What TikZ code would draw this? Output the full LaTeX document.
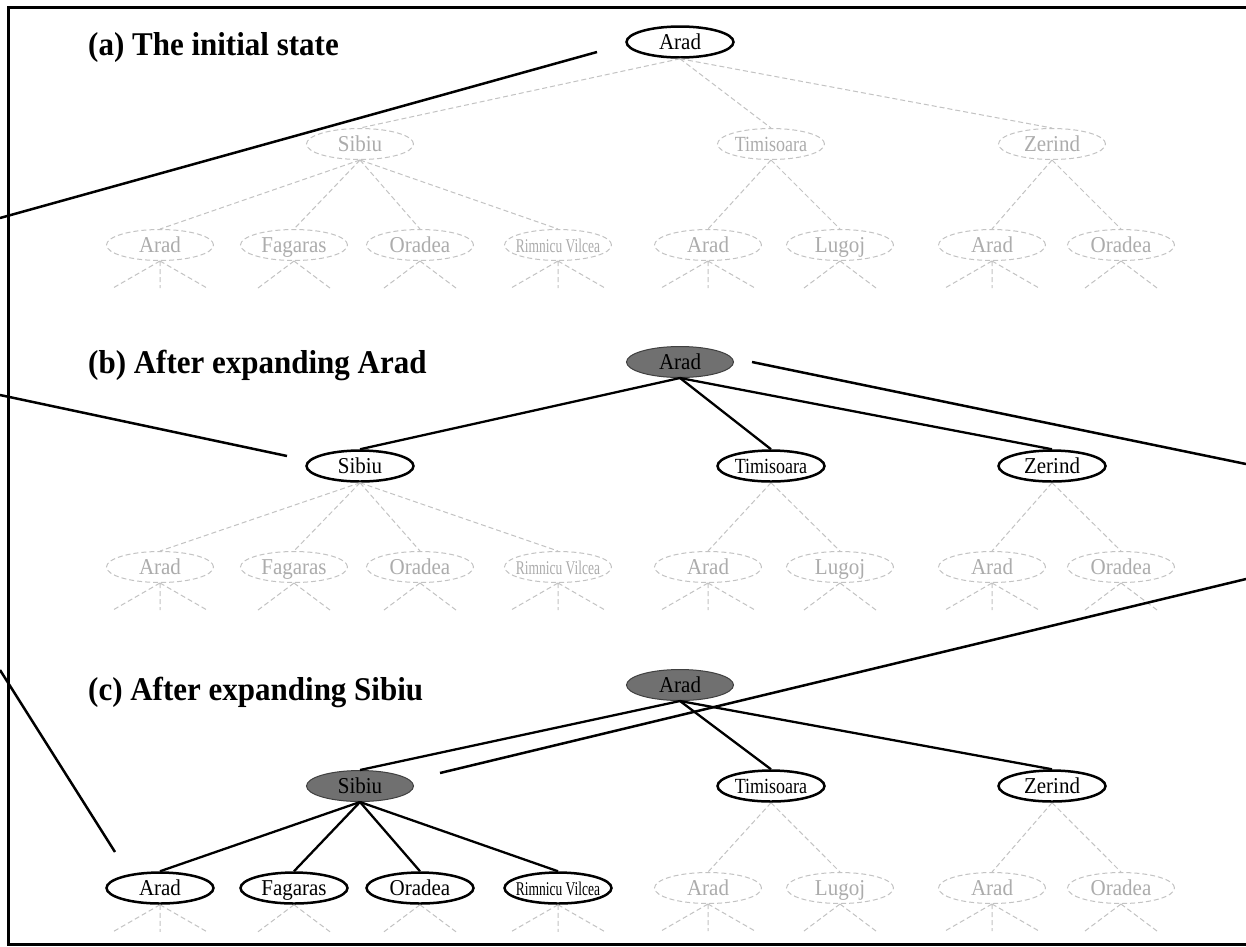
\documentclass[tikz,border=0pt]{standalone}
\usepackage{fontspec}
\setmainfont{Liberation Serif}
\usetikzlibrary{shapes.geometric}
\definecolor{expgray}{RGB}{112,112,112}
\definecolor{faint}{RGB}{195,195,195}
\definecolor{fainttext}{RGB}{172,172,172}
\newcommand{\nlab}[1]{\makebox[0pt]{\scalebox{1}[1.08]{#1}}}
\newcommand{\tim}{\scalebox{0.9}[1]{\fontsize{20}{24}\selectfont Timisoara}}
\newcommand{\rim}{\scalebox{0.75}[1]{\fontsize{18}{22}\selectfont Rimnicu Vilcea}}
\tikzset{
  nd/.style={ellipse, minimum width=107pt, minimum height=31pt, inner sep=0pt,
    text height=17pt, text depth=3pt, font=\fontsize{21}{24}\selectfont},
  openn/.style={nd, draw=black, line width=2.5pt, fill=white},
  donen/.style={nd, draw=black!75, line width=1pt, fill=expgray},
  ghost/.style={nd, draw=faint, line width=1pt, dash pattern=on 5pt off 3pt, text=fainttext},
  tedge/.style={draw=black, line width=2.3pt},
  gedge/.style={draw=faint, line width=1pt, dash pattern=on 5pt off 3pt},
  ann/.style={draw=black, line width=2.5pt},
  ttl/.style={anchor=base west, inner sep=0pt, font=\fontsize{31}{36}\selectfont\bfseries},
}
\newcommand{\threestubs}[1]{\draw[gedge] (#1.south) -- ++(-47,27) (#1.south) -- ++(0,27) (#1.south) -- ++(47,27);}
\newcommand{\twostubs}[1]{\draw[gedge] (#1.south) -- ++(-36,27) (#1.south) -- ++(36,27);}
\begin{document}
\begin{tikzpicture}[x=1pt,y=-1pt]
\fill[white] (0,0) rectangle (1246,946);
\useasboundingbox (0,0) rectangle (1246,946);

% frame
\draw[line width=3pt] (1260,7) -- (8,7) -- (8,944) -- (1260,944);

% ---------- (a) ----------
\node[ttl] (ta) at (88,55) {\scalebox{1}[1.07]{(a) The initial state}};
\node[openn] (aR) at (680,42) {\nlab{Arad}};
\node[ghost] (aS) at (360,144) {\nlab{Sibiu}};
\node[ghost] (aT) at (771,144) {\nlab{\tim}};
\node[ghost] (aZ) at (1052,144) {\nlab{Zerind}};
\node[ghost] (aL1) at (160,245) {\nlab{Arad}};
\node[ghost] (aL2) at (294,245) {\nlab{Fagaras}};
\node[ghost] (aL3) at (420,245) {\nlab{Oradea}};
\node[ghost] (aL4) at (558,245) {\nlab{\rim}};
\node[ghost] (aL5) at (708,245) {\nlab{Arad}};
\node[ghost] (aL6) at (840,245) {\nlab{Lugoj}};
\node[ghost] (aL7) at (992,245) {\nlab{Arad}};
\node[ghost] (aL8) at (1121,245) {\nlab{Oradea}};
\draw[gedge] (aR.south) -- (aS.north);
\draw[gedge] (aR.south) -- (aT.north);
\draw[gedge] (aR.south) -- (aZ.north);
\draw[gedge] (aS.south) -- (aL1.north);
\draw[gedge] (aS.south) -- (aL2.north);
\draw[gedge] (aS.south) -- (aL3.north);
\draw[gedge] (aS.south) -- (aL4.north);
\draw[gedge] (aT.south) -- (aL5.north);
\draw[gedge] (aT.south) -- (aL6.north);
\draw[gedge] (aZ.south) -- (aL7.north);
\draw[gedge] (aZ.south) -- (aL8.north);
\threestubs{aL1}\twostubs{aL2}\twostubs{aL3}\threestubs{aL4}
\threestubs{aL5}\twostubs{aL6}\threestubs{aL7}\twostubs{aL8}

% ---------- (b) ----------
\node[ttl] (tb) at (88,373) {\scalebox{1}[1.07]{(b) After expanding Arad}};
\node[donen] (bR) at (680,362) {\nlab{Arad}};
\node[openn] (bS) at (360,466) {\nlab{Sibiu}};
\node[openn] (bT) at (771,466) {\nlab{\tim}};
\node[openn] (bZ) at (1052,466) {\nlab{Zerind}};
\node[ghost] (bL1) at (160,567) {\nlab{Arad}};
\node[ghost] (bL2) at (294,567) {\nlab{Fagaras}};
\node[ghost] (bL3) at (420,567) {\nlab{Oradea}};
\node[ghost] (bL4) at (558,567) {\nlab{\rim}};
\node[ghost] (bL5) at (708,567) {\nlab{Arad}};
\node[ghost] (bL6) at (840,567) {\nlab{Lugoj}};
\node[ghost] (bL7) at (992,567) {\nlab{Arad}};
\node[ghost] (bL8) at (1121,567) {\nlab{Oradea}};
\draw[tedge] (bR.south) -- (bS.north);
\draw[tedge] (bR.south) -- (bT.north);
\draw[tedge] (bR.south) -- (bZ.north);
\draw[gedge] (bS.south) -- (bL1.north);
\draw[gedge] (bS.south) -- (bL2.north);
\draw[gedge] (bS.south) -- (bL3.north);
\draw[gedge] (bS.south) -- (bL4.north);
\draw[gedge] (bT.south) -- (bL5.north);
\draw[gedge] (bT.south) -- (bL6.north);
\draw[gedge] (bZ.south) -- (bL7.north);
\draw[gedge] (bZ.south) -- (bL8.north);
\threestubs{bL1}\twostubs{bL2}\twostubs{bL3}\threestubs{bL4}
\threestubs{bL5}\twostubs{bL6}\threestubs{bL7}\twostubs{bL8}

% ---------- (c) ----------
\node[ttl] (tc) at (88,700) {\scalebox{1}[1.07]{(c) After expanding Sibiu}};
\node[donen] (cR) at (680,685) {\nlab{Arad}};
\node[donen] (cS) at (360,786) {\nlab{Sibiu}};
\node[openn] (cT) at (771,786) {\nlab{\tim}};
\node[openn] (cZ) at (1052,786) {\nlab{Zerind}};
\node[openn] (cL1) at (160,888) {\nlab{Arad}};
\node[openn] (cL2) at (294,888) {\nlab{Fagaras}};
\node[openn] (cL3) at (420,888) {\nlab{Oradea}};
\node[openn] (cL4) at (558,888) {\nlab{\rim}};
\node[ghost] (cL5) at (708,888) {\nlab{Arad}};
\node[ghost] (cL6) at (840,888) {\nlab{Lugoj}};
\node[ghost] (cL7) at (992,888) {\nlab{Arad}};
\node[ghost] (cL8) at (1121,888) {\nlab{Oradea}};
\draw[tedge] (cR.south) -- (cS.north);
\draw[tedge] (cR.south) -- (cT.north);
\draw[tedge] (cR.south) -- (cZ.north);
\draw[tedge] (cS.south) -- (cL1.north);
\draw[tedge] (cS.south) -- (cL2.north);
\draw[tedge] (cS.south) -- (cL3.north);
\draw[tedge] (cS.south) -- (cL4.north);
\draw[gedge] (cT.south) -- (cL5.north);
\draw[gedge] (cT.south) -- (cL6.north);
\draw[gedge] (cZ.south) -- (cL7.north);
\draw[gedge] (cZ.south) -- (cL8.north);
\threestubs{cL1}\twostubs{cL2}\twostubs{cL3}\threestubs{cL4}
\threestubs{cL5}\twostubs{cL6}\threestubs{cL7}\twostubs{cL8}

% ---------- annotation lines ----------
\coordinate (u1) at (597,52);   \coordinate (v1) at (0,218);
\coordinate (u2) at (287,456);  \coordinate (v2) at (0,395);
\coordinate (u3) at (115,852);  \coordinate (v3) at (0,670);
\coordinate (u4) at (752,362);  \coordinate (v4) at (1246,464);
\coordinate (u5) at (440,773);  \coordinate (v5) at (1246,579);
\draw[ann] (u1) -- (v1);
\draw[ann] (u2) -- (v2);
\draw[ann] (u3) -- (v3);
\draw[ann] (u4) -- (v4);
\draw[ann] (u5) -- (v5);
\end{tikzpicture}
\end{document}
